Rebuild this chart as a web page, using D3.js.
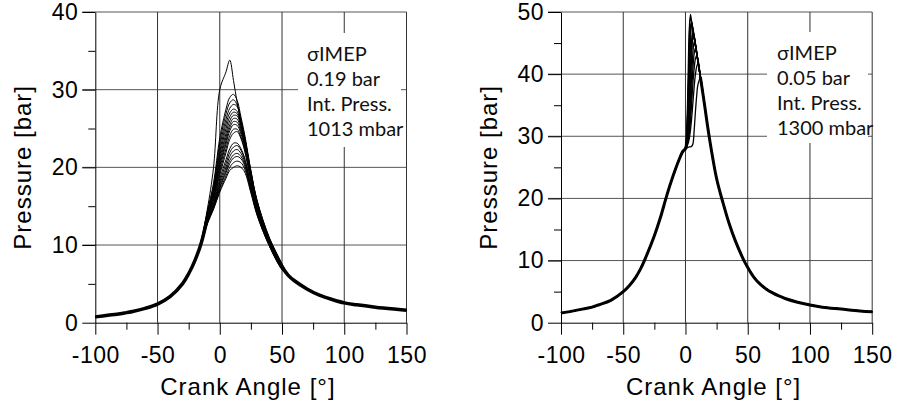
<!DOCTYPE html>
<html>
<head>
<meta charset="utf-8">
<script src="https://cdn.jsdelivr.net/npm/d3@7"></script>
<style>
  body { margin: 0; background: #fff; }
  svg text { font-family: "Liberation Sans", Arial, sans-serif; }
</style>
</head>
<body>
<svg id="chart" width="898" height="407"></svg>
<script>
// axis ticks shared by both panels
const xMajor = [-100, -50, 0, 50, 100, 150];
const xMinor = [-75, -25, 25, 75, 125];
const leftYMajor = [0, 10, 20, 30, 40];
const leftYMinor = [5, 15, 25, 35];
const rightYMajor = [0, 10, 20, 30, 40, 50];
const rightYMinor = [5, 15, 25, 35, 45];

const leftNote = ['σIMEP', '0.19 bar', 'Int. Press.', '1013 mbar'];
const rightNote = ['σIMEP', '0.05 bar', 'Int. Press.', '1300 mbar'];

// left panel: 1013 mbar intake
const leftCompAngles = [-100, -90, -80, -75, -70, -60, -50, -40, -30, -25, -20];
const leftCompP = [0.75, 0.95, 1.15, 1.3, 1.45, 1.85, 2.4, 3.35, 5.0, 6.3, 8.0];
const leftCycleAngles = [-15, -10, -5, 0, 5, 8, 11, 14, 17, 20, 25, 30, 40, 50];
const leftCycles = [
  [10.6, 14.6, 20.0, 30.0, 32.3, 33.8, 31.2, 28.3, 25.8, 23.8, 19.5, 15.7, 10.9, 7.6],
  [10.4, 14.3, 18.0, 23.8, 27.5, 29.0, 29.4, 28.6, 26.5, 24.2, 19.6, 15.7, 10.8, 7.5],
  [10.4, 14.2, 17.6, 23.2, 26.9, 28.3, 28.7, 28.0, 26.1, 23.9, 19.4, 15.6, 10.7, 7.4],
  [10.4, 14.1, 17.3, 22.6, 26.2, 27.6, 28.1, 27.8, 26.0, 23.8, 19.3, 15.5, 10.7, 7.4],
  [10.3, 14.0, 17.0, 22.0, 25.6, 27.0, 27.5, 27.2, 25.6, 23.5, 19.1, 15.4, 10.6, 7.3],
  [10.3, 13.9, 16.8, 21.5, 25.0, 26.5, 27.1, 26.9, 25.4, 23.3, 19.0, 15.3, 10.6, 7.3],
  [10.3, 13.8, 16.6, 21.0, 24.4, 26.0, 26.7, 26.6, 25.2, 23.2, 18.9, 15.2, 10.5, 7.3],
  [10.3, 13.7, 16.4, 20.6, 23.9, 25.5, 26.3, 26.2, 24.9, 23.0, 18.7, 15.1, 10.5, 7.2],
  [10.3, 13.6, 16.2, 20.2, 23.4, 25.1, 25.9, 25.8, 24.6, 22.8, 18.6, 15.0, 10.4, 7.2],
  [10.2, 13.5, 16.0, 19.8, 23.0, 24.7, 25.5, 25.4, 24.3, 22.6, 18.5, 14.9, 10.4, 7.2],
  [10.2, 13.4, 15.8, 19.4, 22.4, 24.1, 24.9, 24.9, 23.9, 22.3, 18.3, 14.8, 10.3, 7.1],
  [10.2, 13.3, 15.6, 19.0, 21.9, 23.6, 24.4, 24.6, 23.7, 22.1, 18.2, 14.7, 10.3, 7.1],
  [10.2, 13.2, 15.3, 18.5, 21.0, 22.4, 23.1, 23.1, 22.4, 21.2, 17.7, 14.4, 10.1, 7.0],
  [10.1, 13.1, 15.2, 18.1, 20.5, 21.9, 22.6, 22.8, 22.2, 21.0, 17.6, 14.3, 10.1, 7.0],
  [10.1, 13.0, 15.0, 17.8, 20.0, 21.4, 22.1, 22.3, 21.8, 20.7, 17.4, 14.2, 10.0, 7.0],
  [10.1, 12.9, 14.9, 17.5, 19.6, 20.9, 21.6, 21.8, 21.4, 20.4, 17.2, 14.1, 10.0, 6.9],
  [10.1, 12.9, 14.8, 17.3, 19.3, 20.5, 21.2, 21.4, 21.1, 20.2, 17.1, 14.0, 9.9, 6.9],
  [10.0, 12.8, 14.7, 17.0, 18.9, 20.0, 20.6, 20.8, 20.6, 19.8, 16.9, 13.9, 9.8, 6.9],
  [10.0, 12.7, 14.6, 16.8, 18.6, 19.6, 20.0, 20.2, 20.0, 19.4, 16.7, 13.8, 9.8, 6.8]
];
const leftExpAngles = [55, 60, 70, 80, 90, 100, 110, 125, 140, 150];
const leftExpP = [6.1, 5.4, 4.35, 3.55, 3.0, 2.55, 2.3, 2.0, 1.75, 1.6];

// right panel: 1300 mbar intake
const rightCompAngles = [-100, -90, -80, -75, -70, -60, -50, -45, -40, -36, -33, -25, -20, -15, -10, -5, -2];
const rightCompP = [1.55, 1.9, 2.3, 2.5, 2.85, 3.6, 5.0, 6.0, 7.3, 8.7, 10.0, 14.0, 17.0, 20.5, 23.6, 26.3, 27.6];
const rightCycleAngles = [0, 1, 2, 3, 4, 5, 6, 7, 8, 9, 10, 12, 15];
const rightCycles = [
  [28.2, 31.0, 38.5, 47.0, 49.6, 48.3, 47.0, 45.8, 44.6, 43.3, 42.0, 39.5, 35.5],
  [28.2, 30.5, 36.0, 44.0, 49.0, 48.4, 47.1, 45.8, 44.6, 43.3, 42.0, 39.5, 35.5],
  [28.1, 30.2, 35.0, 42.5, 47.8, 48.3, 47.1, 45.9, 44.6, 43.3, 42.0, 39.5, 35.5],
  [28.1, 30.0, 34.0, 41.0, 47.0, 48.2, 47.2, 45.9, 44.6, 43.3, 42.0, 39.5, 35.5],
  [28.1, 29.6, 32.5, 38.0, 44.0, 47.6, 47.3, 46.0, 44.7, 43.4, 42.1, 39.5, 35.5],
  [28.1, 29.3, 31.5, 35.5, 41.0, 45.5, 46.8, 46.0, 44.7, 43.4, 42.1, 39.5, 35.5],
  [28.0, 29.1, 31.0, 34.8, 40.0, 44.5, 46.3, 46.0, 44.8, 43.5, 42.1, 39.5, 35.5],
  [28.0, 29.0, 30.8, 34.0, 38.5, 43.0, 45.8, 46.0, 44.9, 43.5, 42.1, 39.5, 35.5],
  [28.0, 28.8, 30.2, 32.5, 36.0, 40.0, 43.5, 45.2, 44.8, 43.6, 42.2, 39.6, 35.5],
  [28.0, 28.6, 29.6, 31.3, 34.0, 37.5, 41.0, 43.3, 44.2, 43.5, 42.3, 39.6, 35.5],
  [28.0, 28.4, 29.2, 30.4, 32.5, 35.5, 38.6, 41.0, 42.5, 43.0, 42.4, 39.7, 35.5],
  [28.0, 28.3, 28.8, 29.6, 31.0, 33.0, 35.5, 38.0, 40.0, 41.2, 41.7, 39.8, 35.6],
  [28.0, 28.1, 28.2, 28.3, 28.3, 28.4, 28.8, 31.0, 34.0, 36.5, 38.3, 39.4, 35.7]
];
const rightExpAngles = [19, 25, 30, 35, 40, 47, 50, 55, 60, 65, 70, 75, 80, 90, 100, 110, 125, 140, 150];
const rightExpP = [30.0, 23.2, 19.4, 16.0, 13.2, 10.0, 8.9, 7.3, 6.2, 5.4, 4.8, 4.3, 3.9, 3.3, 2.85, 2.5, 2.2, 1.9, 1.75];

const svg = d3.select('#chart');
const zip = (a, b) => a.map((v, i) => [v, b[i]]);

function drawPanel(p) {
    const g = svg.append('g');
    const x = d3.scaleLinear().domain([-100, 150]).range([p.x0, p.x0 + 311.2]);
    const y = d3.scaleLinear().domain([0, p.yMax]).range([322.7, 12]);

    // grid
    g.selectAll('line.hgrid')
        .data(p.yMajor.filter(v => v > 0))
        .join('line')
            .attr('x1', x(-100) - 13).attr('x2', x(150))
            .attr('y1', d => y(d)).attr('y2', d => y(d))
            .attr('stroke', '#555').attr('stroke-width', 1);

    g.selectAll('line.vgrid')
        .data(xMajor.filter(v => v > -100))
        .join('line')
            .attr('x1', d => x(d)).attr('x2', d => x(d))
            .attr('y1', y(0)).attr('y2', y(p.yMax))
            .attr('stroke', '#333').attr('stroke-width', 1);

    // note box covers grid
    g.append('rect')
        .attr('x', p.box[0]).attr('y', p.box[1])
        .attr('width', p.box[2]).attr('height', p.box[3])
        .attr('fill', '#fff');

    g.selectAll('text.note')
        .data(p.note)
        .join('text')
            .attr('x', p.noteX)
            .attr('y', (d, i) => p.noteY + i * 25)
            .style('font-family', 'Lato, "Open Sans", sans-serif')
            .style('font-size', '20px')
            .attr('fill', '#111')
            .text(d => d);

    // pressure traces
    const line = d3.line()
        .x(d => x(d[0]))
        .y(d => y(d[1]))
        .curve(d3.curveCatmullRom.alpha(0.5));

    const comp = zip(p.compAngles, p.compP);
    const exp = zip(p.expAngles, p.expP);

    g.selectAll('path.cycle')
        .data(p.cycles)
        .join('path')
            .attr('d', c => line(comp.concat(zip(p.cycleAngles, c), exp)))
            .attr('fill', 'none')
            .attr('stroke', '#000')
            .attr('stroke-width', p.cycleWidth);

    // the shared motored parts look thicker (many overlapping noisy traces)
    const mid = zip(p.cycleAngles, p.cycles[Math.floor(p.cycles.length / 2)]);
    [comp.concat(mid.slice(0, 2)), mid.slice(-2).concat(exp)].forEach(seg => {
        g.append('path')
            .attr('d', line(seg))
            .attr('fill', 'none')
            .attr('stroke', '#000')
            .attr('stroke-width', p.tailWidth);
    });

    // axes
    const xAxis = g.append('g')
        .attr('transform', `translate(0,${y(0)})`)
        .call(d3.axisBottom(x).tickValues(xMajor).tickSize(12).tickSizeOuter(0)
            .tickPadding(12).tickFormat(d => String(d)));
    g.append('g')
        .attr('transform', `translate(0,${y(0)})`)
        .call(d3.axisBottom(x).tickValues(xMinor).tickSize(7).tickFormat(''))
        .select('.domain').remove();

    const yAxis = g.append('g')
        .attr('transform', `translate(${x(-100)},0)`)
        .call(d3.axisLeft(y).tickValues(p.yMajor).tickSize(13).tickSizeOuter(0)
            .tickPadding(4).tickFormat(d => String(d)));
    g.append('g')
        .attr('transform', `translate(${x(-100)},0)`)
        .call(d3.axisLeft(y).tickValues(p.yMinor).tickSize(7).tickFormat(''))
        .select('.domain').remove();

    [xAxis, yAxis].forEach(a => {
        a.selectAll('text')
            .style('font-family', '"Liberation Sans", Arial, sans-serif')
            .style('font-size', '23px')
            .style('letter-spacing', '0.5px')
            .attr('fill', '#000');
    });
    g.selectAll('.tick line, .domain').attr('stroke', '#000');

    // titles
    g.append('text')
        .attr('x', (x(-100) + x(150)) / 2 - 3)
        .attr('y', 395)
        .attr('text-anchor', 'middle')
        .style('font-size', '24px')
        .style('letter-spacing', '1px')
        .text('Crank Angle [°]');

    g.append('text')
        .attr('transform', `translate(${x(-100) - 64},${(y(0) + y(p.yMax)) / 2}) rotate(-90)`)
        .attr('text-anchor', 'middle')
        .style('font-size', '24px')
        .style('letter-spacing', '1px')
        .text('Pressure [bar]');
}

drawPanel({
    x0: 95.3, yMax: 40, yMajor: leftYMajor, yMinor: leftYMinor,
    compAngles: leftCompAngles, compP: leftCompP,
    cycleAngles: leftCycleAngles, cycles: leftCycles,
    expAngles: leftExpAngles, expP: leftExpP,
    cycleWidth: 1, tailWidth: 3.5,
    note: leftNote, noteX: 307, noteY: 60.5,
    box: [298, 33, 103, 114]
});

drawPanel({
    x0: 561, yMax: 50, yMajor: rightYMajor, yMinor: rightYMinor,
    compAngles: rightCompAngles, compP: rightCompP,
    cycleAngles: rightCycleAngles, cycles: rightCycles,
    expAngles: rightExpAngles, expP: rightExpP,
    cycleWidth: 1.3, tailWidth: 3,
    note: rightNote, noteX: 777, noteY: 59.5,
    box: [767, 32, 101, 111]
});
</script>
</body>
</html>
